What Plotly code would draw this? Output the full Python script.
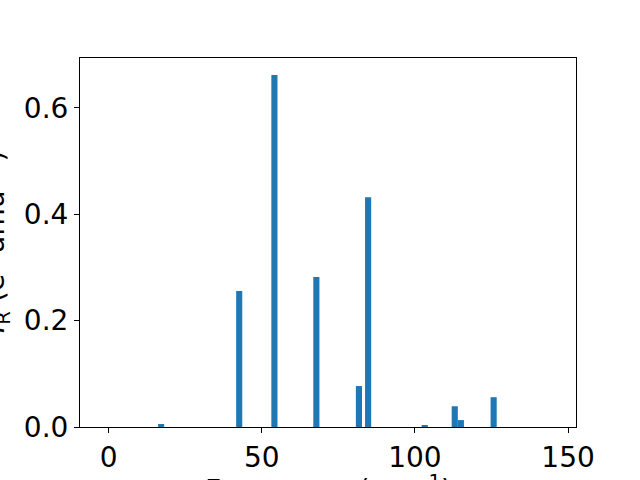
import plotly.graph_objects as go

freqs = [17.1, 42.6, 54.1, 67.8, 81.7, 84.7, 103.2, 113.0, 115.0, 125.7]
intensities = [0.0056, 0.2556, 0.6617, 0.282, 0.077, 0.432, 0.002, 0.039, 0.013, 0.056]
bar_width = 2.0
x_ticks = [0, 50, 100, 150]
y_ticks = [0.0, 0.2, 0.4, 0.6]

fig = go.Figure(go.Bar(x=freqs, y=intensities, width=bar_width,
                       marker=dict(color="#1f77b4", line=dict(width=0))))

L, R, T, B = 80, 576, 58, 427
pw, ph = R - L, B - T
font = dict(family="DejaVu Sans", size=28, color="black")

fig.update_layout(
    width=640, height=480, autosize=False,
    margin=dict(l=L, r=640 - R, t=T, b=480 - B, pad=0, autoexpand=False),
    paper_bgcolor="white", plot_bgcolor="white",
    showlegend=False, font=font,
    xaxis=dict(range=[-9.4, 152.6], tickvals=x_ticks, ticks="outside", ticklen=5,
               tickwidth=1, tickcolor="black", showline=True, linecolor="black",
               linewidth=1, mirror=True, showgrid=False, zeroline=False,
               tickfont=font, automargin=False),
    yaxis=dict(range=[0, 0.6936], tickvals=y_ticks, tickformat=".1f", ticks="outside",
               ticklen=5, tickwidth=1, tickcolor="black", showline=True,
               linecolor="black", linewidth=1, mirror=True, showgrid=False,
               zeroline=False, tickfont=font, automargin=False),
    annotations=[
        dict(text="Frequency (cm<sup>−1</sup>)", xref="paper", yref="paper",
             x=0.5, y=(B - 468) / ph, xanchor="center", yanchor="top",
             showarrow=False, font=font),
        dict(text="<i>I</i><sub>R</sub> (e<sup>2</sup> amu<sup>−1</sup>)",
             xref="paper", yref="paper", x=(17 - L) / pw, y=0.5,
             xanchor="right", yanchor="middle", textangle=-90,
             showarrow=False, font=font),
    ],
)

fig.write_html("out.html", config={"displayModeBar": False},
               post_script="document.body.style.margin='0px';")
